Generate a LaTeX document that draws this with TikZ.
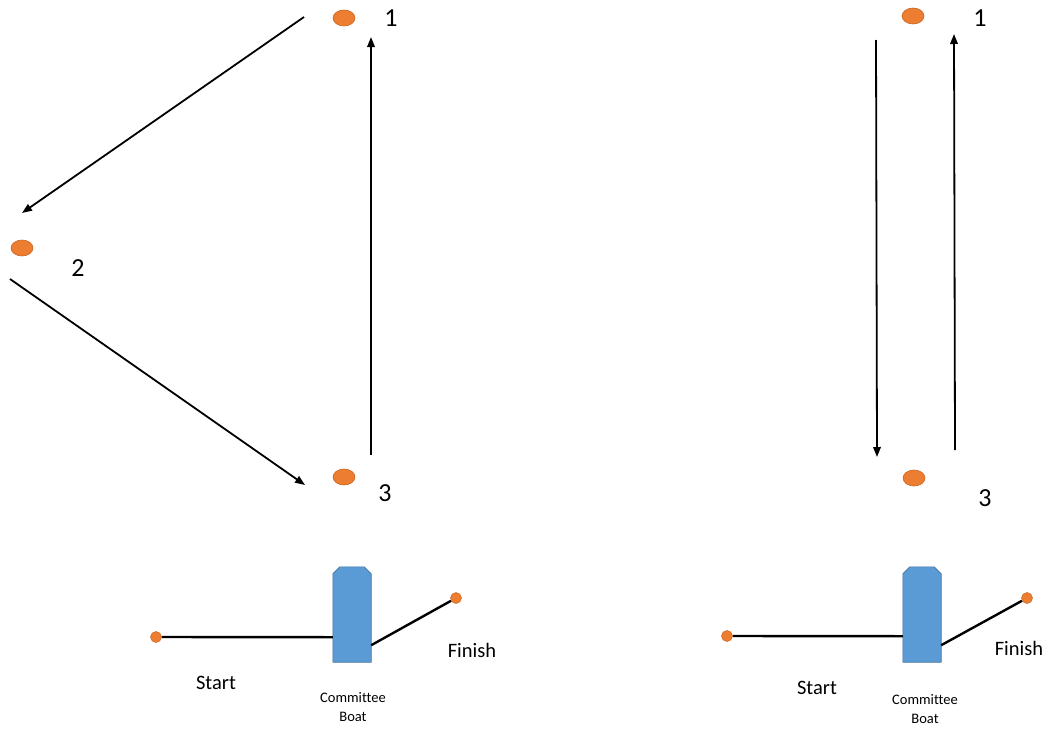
\documentclass[tikz,border=0pt]{standalone}
\usepackage{fontspec}
\setmainfont[Ligatures=NoCommon]{Carlito}
\usetikzlibrary{arrows.meta,shapes.geometric,calc}
\definecolor{markorange}{HTML}{ED7D31}
\definecolor{markedge}{HTML}{C9651F}
\definecolor{boatblue}{HTML}{5B9BD5}
\definecolor{boatedge}{HTML}{41719C}
\tikzset{
  buoy/.style={ellipse, fill=markorange, draw=markedge, line width=0.6pt, minimum width=22pt, minimum height=16pt, inner sep=0pt},
  pinbuoy/.style={circle, fill=markorange, draw=markedge, line width=0.5pt, minimum size=11pt, inner sep=0pt},
  num/.style={font=\fontsize{26}{26}\selectfont, inner sep=0pt},
  lbl/.style={font=\fontsize{20.5}{22}\selectfont, inner sep=0pt},
  smalltxt/.style={font=\fontsize{14.5}{19}\selectfont, inner sep=0pt, align=center},
  leg/.style={line width=1.8pt, -{Triangle[length=10pt,width=7.5pt]}},
  courseline/.style={line width=2.4pt},
  boatbox/.style={rectangle, minimum width=38pt, minimum height=95pt, inner sep=0pt},
  boatfill/.style={fill=boatblue, draw=boatedge, line width=0.6pt}
}
\newcommand{\boatshape}[1]{%
  \fill[boatfill] (#1.south west) -- ($(#1.north west)+(0,7)$) -- ($(#1.north west)+(7,0)$)
    -- ($(#1.north east)+(-7,0)$) -- ($(#1.north east)+(0,7)$) -- (#1.south east) -- cycle;}
\begin{document}
\begin{tikzpicture}[x=1pt,y=-1pt]
\useasboundingbox (0,0) rectangle (1054,728);
% ---------- left course ----------
\node[buoy] (L1) at (344,18) {};
\node[buoy] (L2) at (22,248) {};
\node[buoy] (L3) at (344,477) {};
\node[num] (L1t) at (391,18) {1};
\node[num] (L2t) at (78,268) {2};
\node[num] (L3t) at (385,493) {3};
\coordinate (a1s) at (304,17);
\coordinate (a1e) at (22,213);
\coordinate (a2s) at (10,279);
\coordinate (a2e) at (305,485);
\coordinate (a3s) at (371,455);
\coordinate (a3e) at (371,37);
\draw[leg] (a1s) -- (a1e);
\draw[leg] (a2s) -- (a2e);
\draw[leg] (a3s) -- (a3e);
% start/finish left
\node[boatbox] (BL) at (352,614.5) {};
\boatshape{BL}
\node[pinbuoy] (SL) at (156,637) {};
\node[pinbuoy] (FL) at (456,598) {};
\draw[courseline] (SL) -- ($(BL.south west)+(0,-25)$);
\draw[courseline] ($(BL.south east)+(0,-17)$) -- (FL);
\node[lbl] (StL) at (216,683) {Start};
\node[lbl] (FiL) at (472,650) {Finish};
\node[smalltxt] (CbL) at (353,707) {Committee\\Boat};
% ---------- right course ----------
\node[buoy] (R1) at (913,16) {};
\node[buoy] (R3) at (914,478) {};
\node[num] (R1t) at (980,18) {1};
\node[num] (R3t) at (985,498) {3};
\coordinate (b1s) at (876,40);
\coordinate (b1e) at (877,457);
\coordinate (b2s) at (955,450);
\coordinate (b2e) at (954,34);
\draw[leg] (b1s) -- (b1e);
\draw[leg] (b2s) -- (b2e);
\node[boatbox] (BR) at (922,614.5) {};
\boatshape{BR}
\node[pinbuoy] (SR) at (727,636) {};
\node[pinbuoy] (FR) at (1027,598) {};
\draw[courseline] (SR) -- ($(BR.south west)+(0,-26)$);
\draw[courseline] ($(BR.south east)+(0,-17)$) -- (FR);
\node[lbl] (StR) at (817,688) {Start};
\node[lbl] (FiR) at (1019,648) {Finish};
\node[smalltxt] (CbR) at (925,709) {Committee\\Boat};
\end{tikzpicture}
\end{document}
